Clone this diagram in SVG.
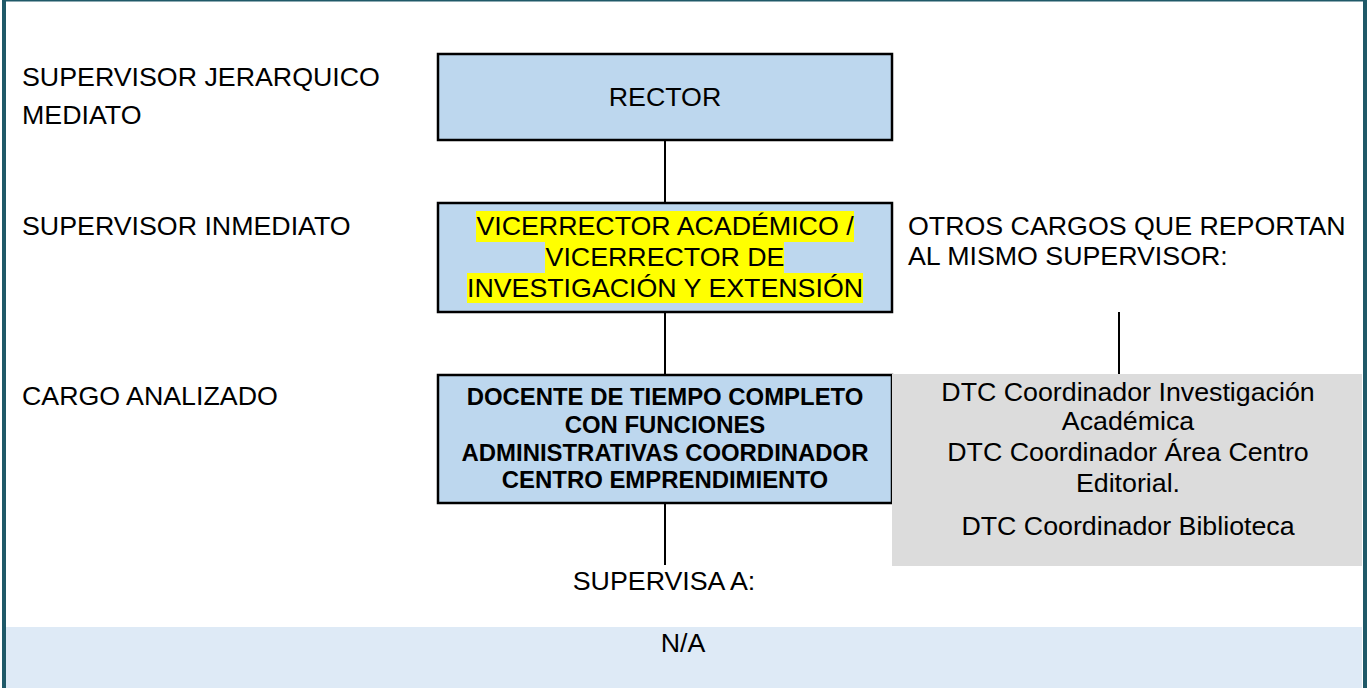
<svg xmlns="http://www.w3.org/2000/svg" width="1367" height="688" viewBox="0 0 1367 688">
<style>
text{font-family:"Liberation Sans",Arial,sans-serif;fill:#000}
.lbl{font-size:26px}
.c{text-anchor:middle}
.box{fill:#BDD7EE;stroke:#000;stroke-width:2.5}
.bold{font-size:23px;font-weight:bold}
.hl{fill:#FFFF00}
.conn line{stroke:#000;stroke-width:2}
</style>
<rect x="0" y="0" width="1367" height="688" fill="#fff"/>
<rect x="6" y="627" width="1356" height="61" fill="#DEEAF6"/>
<g id="frame" fill="#1F5968">
<rect x="2" y="0" width="4" height="688"/>
<rect x="2" y="0" width="1365" height="1.5"/>
<rect x="1363" y="0" width="4" height="688"/>
</g>
<g id="labels">
<text class="lbl" transform="translate(22,86) scale(1.03,1)">SUPERVISOR JERARQUICO</text>
<text class="lbl" transform="translate(22,124) scale(1.03,1)">MEDIATO</text>
<text class="lbl" transform="translate(22,235) scale(1.03,1)">SUPERVISOR INMEDIATO</text>
<text class="lbl" transform="translate(22,405) scale(1.03,1)">CARGO ANALIZADO</text>
<text class="lbl" transform="translate(908,235) scale(1.03,1)">OTROS CARGOS QUE REPORTAN</text>
<text class="lbl" transform="translate(908,265) scale(1.03,1)">AL MISMO SUPERVISOR:</text>
</g>
<g class="conn" id="connectors">
<line x1="665" y1="140" x2="665" y2="203"/>
<line x1="665" y1="312" x2="665" y2="375"/>
<line x1="665" y1="503" x2="665" y2="565"/>
<line x1="1119" y1="312" x2="1119" y2="374"/>
</g>
<g id="rector">
<rect class="box" x="438" y="54" width="454" height="86"/>
<text class="lbl c" transform="translate(665,106) scale(1.03,1)">RECTOR</text>
</g>
<g id="vicerrector">
<rect class="box" x="438" y="203" width="454" height="109"/>
<rect class="hl" x="476" y="211" width="378" height="31"/>
<rect class="hl" x="545" y="242" width="239" height="31"/>
<rect class="hl" x="467" y="273" width="396" height="30"/>
<text class="lbl c" transform="translate(665,235) scale(1.03,1)">VICERRECTOR ACADÉMICO /</text>
<text class="lbl c" transform="translate(665,266) scale(1.03,1)">VICERRECTOR DE</text>
<text class="lbl c" transform="translate(665,297) scale(1.03,1)">INVESTIGACIÓN Y EXTENSIÓN</text>
</g>
<g id="cargo">
<rect class="box" x="438" y="375" width="454" height="128"/>
<text class="bold c" transform="translate(665,405) scale(1.04,1)">DOCENTE DE TIEMPO COMPLETO</text>
<text class="bold c" transform="translate(665,433) scale(1.04,1)">CON FUNCIONES</text>
<text class="bold c" transform="translate(665,461) scale(1.04,1)">ADMINISTRATIVAS COORDINADOR</text>
<text class="bold c" transform="translate(665,488) scale(1.04,1)">CENTRO EMPRENDIMIENTO</text>
</g>
<g id="otros">
<rect x="892" y="374" width="470" height="192" fill="#DCDCDC"/>
<text class="lbl c" transform="translate(1128,401) scale(1.03,1)">DTC Coordinador Investigación</text>
<text class="lbl c" transform="translate(1128,430) scale(1.03,1)">Académica</text>
<text class="lbl c" transform="translate(1128,461) scale(1.03,1)">DTC Coordinador Área Centro</text>
<text class="lbl c" transform="translate(1128,492) scale(1.03,1)">Editorial.</text>
<text class="lbl c" transform="translate(1128,535) scale(1.03,1)">DTC Coordinador Biblioteca</text>
</g>
<g id="supervisa">
<text class="lbl c" transform="translate(664,590) scale(1.03,1)">SUPERVISA A:</text>
<text class="lbl c" transform="translate(683,652) scale(1.03,1)">N/A</text>
</g>
</svg>
